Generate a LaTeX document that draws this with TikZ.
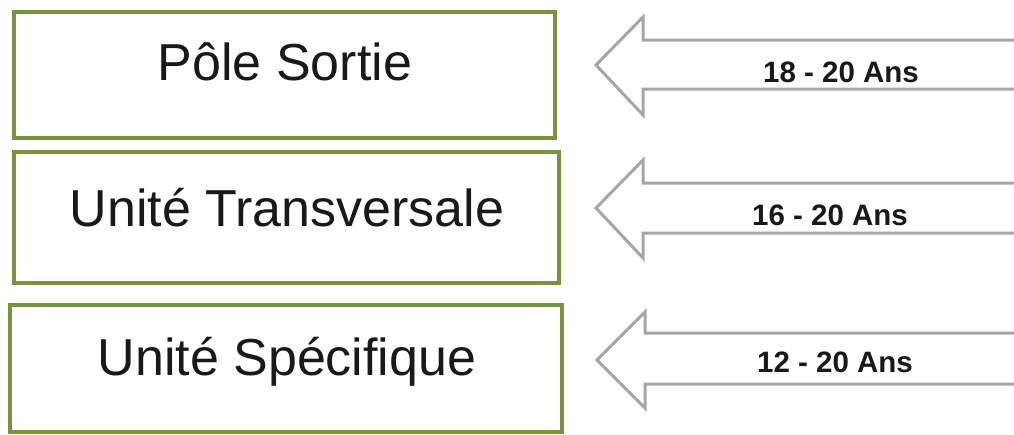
\documentclass[tikz,border=0pt]{standalone}
\usepackage{fontspec}
\setmainfont{Liberation Sans}
\definecolor{boxgreen}{HTML}{77933C}
\definecolor{arrowgray}{HTML}{A6A6A6}
\begin{document}
\begin{tikzpicture}[x=1pt,y=-1pt,
  box/.style={draw=boxgreen, line width=3.5pt, rectangle, inner sep=0pt},
  boxtext/.style={anchor=base, inner sep=0pt, font=\fontsize{52}{60}\selectfont, text=black!90},
  agetext/.style={anchor=base, inner sep=0pt, font=\fontsize{29.5}{34}\selectfont\bfseries, text=black!90},
  bigarrow/.style={draw=arrowgray, line width=3pt, line join=miter}]
\useasboundingbox (0,0) rectangle (1014,434);
% boxes
\node[box, minimum width=541pt, minimum height=126pt] (b1) at (284.5,75) {};
\node[box, minimum width=545pt, minimum height=131pt] (b2) at (286.5,217.5) {};
\node[box, minimum width=552pt, minimum height=127pt] (b3) at (286,368.5) {};
\node[boxtext] (t1) at (285,80) {Pôle Sortie};
\node[boxtext] (t2) at (287,226) {Unité Transversale};
\node[boxtext] (t3) at (287,375) {Unité Spécifique};
% arrows
\draw[bigarrow] (1020,40) -- (643,40) -- (643,17) -- (596,65) -- (643,115) -- (643,89) -- (1020,89);
\draw[bigarrow] (1020,183) -- (643,183) -- (643,160) -- (596,208) -- (643,258) -- (643,233) -- (1020,233);
\draw[bigarrow] (1020,333) -- (645,333) -- (645,312) -- (597,360) -- (645,408) -- (645,384) -- (1020,384);
\node[agetext] (a1) at (841,82) {18 - 20 Ans};
\node[agetext] (a2) at (830,225) {16 - 20 Ans};
\node[agetext] (a3) at (835,372) {12 - 20 Ans};
\end{tikzpicture}
\end{document}
